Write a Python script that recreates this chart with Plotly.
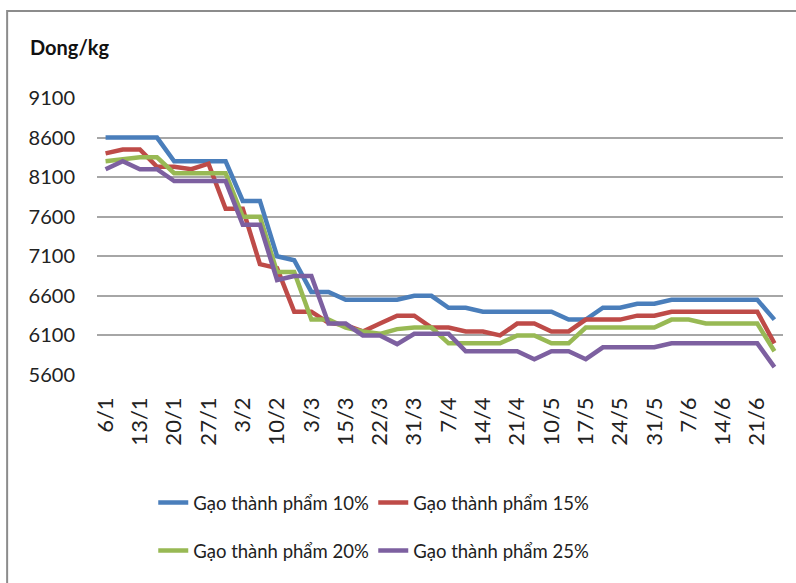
import plotly.graph_objects as go

# Category axis: two observations per labelled week
dates = [
    "6/1", "9/1", "13/1", "16/1", "20/1", "23/1", "27/1", "30/1", "3/2", "6/2",
    "10/2", "24/2", "3/3", "8/3", "15/3", "18/3", "22/3", "25/3", "31/3", "3/4",
    "7/4", "10/4", "14/4", "17/4", "21/4", "5/5", "10/5", "13/5", "17/5", "20/5",
    "24/5", "27/5", "31/5", "3/6", "7/6", "10/6", "14/6", "17/6", "21/6", "24/6",
]

# Prices (Dong/kg)
rice_10 = [
    8600, 8600, 8600, 8600, 8300, 8300, 8300, 8300, 7800, 7800,
    7100, 7050, 6650, 6650, 6550, 6550, 6550, 6550, 6600, 6600,
    6450, 6450, 6400, 6400, 6400, 6400, 6400, 6300, 6300, 6450,
    6450, 6500, 6500, 6550, 6550, 6550, 6550, 6550, 6550, 6300,
]
rice_15 = [
    8400, 8450, 8450, 8230, 8230, 8200, 8270, 7700, 7700, 7000,
    6950, 6400, 6400, 6260, 6230, 6150, 6250, 6350, 6350, 6200,
    6200, 6150, 6150, 6100, 6250, 6250, 6150, 6150, 6300, 6300,
    6300, 6350, 6350, 6400, 6400, 6400, 6400, 6400, 6400, 6000,
]
rice_20 = [
    8300, 8320, 8350, 8350, 8150, 8150, 8150, 8150, 7600, 7600,
    6900, 6900, 6300, 6300, 6200, 6150, 6120, 6180, 6200, 6200,
    6000, 6000, 6000, 6000, 6100, 6100, 6000, 6000, 6200, 6200,
    6200, 6200, 6200, 6300, 6300, 6250, 6250, 6250, 6250, 5900,
]
rice_25 = [
    8200, 8300, 8200, 8200, 8050, 8050, 8050, 8050, 7500, 7500,
    6800, 6850, 6850, 6250, 6250, 6100, 6100, 5990, 6120, 6120,
    6120, 5900, 5900, 5900, 5900, 5800, 5900, 5900, 5800, 5950,
    5950, 5950, 5950, 6000, 6000, 6000, 6000, 6000, 6000, 5700,
]

series = [
    ("Gạo thành phẩm 10%", rice_10, "#4A7EBB", "legend"),
    ("Gạo thành phẩm 15%", rice_15, "#BE4B48", "legend"),
    ("Gạo thành phẩm 20%", rice_20, "#98B954", "legend2"),
    ("Gạo thành phẩm 25%", rice_25, "#7D60A0", "legend2"),
]

y_ticks = [5600, 6100, 6600, 7100, 7600, 8100, 8600, 9100]

FONT = "Lato"

fig = go.Figure()
for name, values, colour, leg in series:
    fig.add_trace(
        go.Scatter(
            x=dates,
            y=values,
            mode="lines",
            name=name,
            line=dict(color=colour, width=4.5),
            legend=leg,
        )
    )

fig.update_xaxes(
    type="category",
    categoryorder="array",
    categoryarray=dates,
    range=[-0.5, len(dates) - 0.5],
    tickmode="array",
    tickvals=dates[::2],
    ticktext=dates[::2],
    tickangle=-90,
    tickfont=dict(family=FONT, size=22, color="#222"),
    showgrid=False,
    showline=False,
    ticks="",
    zeroline=False,
    ticklabelstandoff=17,
)
fig.update_yaxes(
    range=[5600, 9100],
    tickmode="array",
    tickvals=y_ticks,
    tickfont=dict(family=FONT, size=20, color="#222"),
    showgrid=True,
    gridcolor="#A6A6A6",
    gridwidth=1.5,
    showline=False,
    zeroline=False,
    ticks="",
    ticklabelstandoff=21,
)

legend_common = dict(
    orientation="h",
    xanchor="left",
    yanchor="middle",
    font=dict(family=FONT, size=18.5, color="#222"),
    entrywidth=175,
    entrywidthmode="pixels",
    bgcolor="rgba(0,0,0,0)",
)

fig.update_layout(
    width=796,
    height=583,
    margin=dict(l=97, r=13, t=98, b=208),
    paper_bgcolor="white",
    plot_bgcolor="white",
    showlegend=True,
    legend=dict(x=0.082, y=-0.462, **legend_common),
    legend2=dict(x=0.082, y=-0.635, **legend_common),
    annotations=[
        dict(
            text="<b>Dong/kg</b>",
            xref="paper",
            yref="paper",
            x=-0.1,
            y=1.183,
            xanchor="left",
            yanchor="middle",
            showarrow=False,
            font=dict(family=FONT, size=20, color="#111"),
        )
    ],
    shapes=[
        dict(
            type="rect",
            xref="paper",
            yref="paper",
            x0=-0.131,
            x1=1.05,
            y0=-0.8,
            y1=1.314,
            line=dict(color="#8C8C8C", width=2),
            fillcolor="rgba(0,0,0,0)",
            layer="below",
        )
    ],
)

# the page's default 8px body margin would shift the whole chart
fig.write_html(
    "out.html",
    config={"displayModeBar": False},
    post_script="document.body.style.margin='0';",
)
